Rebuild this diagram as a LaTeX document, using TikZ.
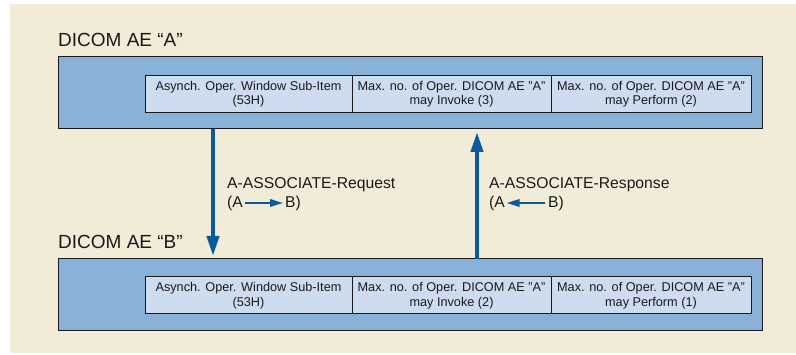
\documentclass[tikz,border=0pt]{standalone}
\usepackage{fontspec}
\setmainfont{Liberation Sans}
\usetikzlibrary{arrows.meta}
\definecolor{bgc}{HTML}{F1EBD8}
\definecolor{outerc}{HTML}{87B1D6}
\definecolor{cellc}{HTML}{CDDCEE}
\definecolor{arrc}{HTML}{0B5B9C}
\definecolor{txtc}{HTML}{1A1A1A}
\tikzset{
  outerbox/.style={draw=txtc, line width=1pt, fill=outerc, inner sep=0pt},
  cellbox/.style={draw=txtc, line width=1pt, fill=cellc, inner sep=0pt, align=center,
    text=txtc, font=\fontsize{12.7}{14.5}\selectfont, minimum height=37pt},
  titletext/.style={anchor=west, inner sep=0pt, text=txtc, font=\fontsize{19}{22}\selectfont},
  labeltext/.style={anchor=west, inner sep=0pt, text=txtc, font=\fontsize{15.7}{18}\selectfont},
  bigarrow/.style={draw=arrc, line width=4pt, -{Triangle[length=20pt,width=12pt]}},
  smallarrow/.style={draw=arrc, line width=2pt, -{Triangle[length=13pt,width=7.5pt]}}
}
\begin{document}
\begin{tikzpicture}[x=1pt,y=-1pt]
\useasboundingbox (0,0) rectangle (796,355);
\fill[bgc] (10,4) rectangle (796,353);
% titles
\node[titletext] (tA) at (58,40) {DICOM AE “A”};
\node[titletext] (tB) at (58,242) {DICOM AE “B”};
% outer boxes
\node[outerbox, minimum width=704pt, minimum height=72pt] (boxA) at (410,93) {};
\node[outerbox, minimum width=704pt, minimum height=72pt] (boxB) at (410,295) {};
% cells A
\node[cellbox, minimum width=207pt] (a1) at (248.5,94) {Asynch. Oper. Window Sub-Item\\(53H)};
\node[cellbox, minimum width=199pt] (a2) at (451.5,94) {Max. no. of Oper. DICOM AE "A"\\may Invoke (3)};
\node[cellbox, minimum width=200pt] (a3) at (651,94) {Max. no. of Oper. DICOM AE "A"\\may Perform (2)};
% cells B
\node[cellbox, minimum width=207pt] (b1) at (248.5,295.5) {Asynch. Oper. Window Sub-Item\\(53H)};
\node[cellbox, minimum width=199pt] (b2) at (451.5,295.5) {Max. no. of Oper. DICOM AE "A"\\may Invoke (2)};
\node[cellbox, minimum width=200pt] (b3) at (651,295.5) {Max. no. of Oper. DICOM AE "A"\\may Perform (1)};
% anchors for arrows
\coordinate (dStart) at (213,129);
\coordinate (dEnd) at (213,256);
\coordinate (uStart) at (477,259);
\coordinate (uEnd) at (477,132);
\draw[bigarrow] (dStart) -- (dEnd);
\draw[bigarrow] (uStart) -- (uEnd);
% request label
\node[labeltext] (req) at (227,185) {A-ASSOCIATE-Request};
\node[labeltext] (reqA) at (227,203) {(A};
\node[labeltext] (reqB) at (285,203) {B)};
\draw[smallarrow] ([xshift=1.5pt]reqA.east) -- ([xshift=-2pt]reqB.west);
% response label
\node[labeltext] (res) at (489,185) {A-ASSOCIATE-Response};
\node[labeltext] (resA) at (489,203) {(A};
\node[labeltext] (resB) at (548,203) {B)};
\draw[smallarrow] ([xshift=-3pt]resB.west) -- ([xshift=1.5pt]resA.east);
\end{tikzpicture}
\end{document}
